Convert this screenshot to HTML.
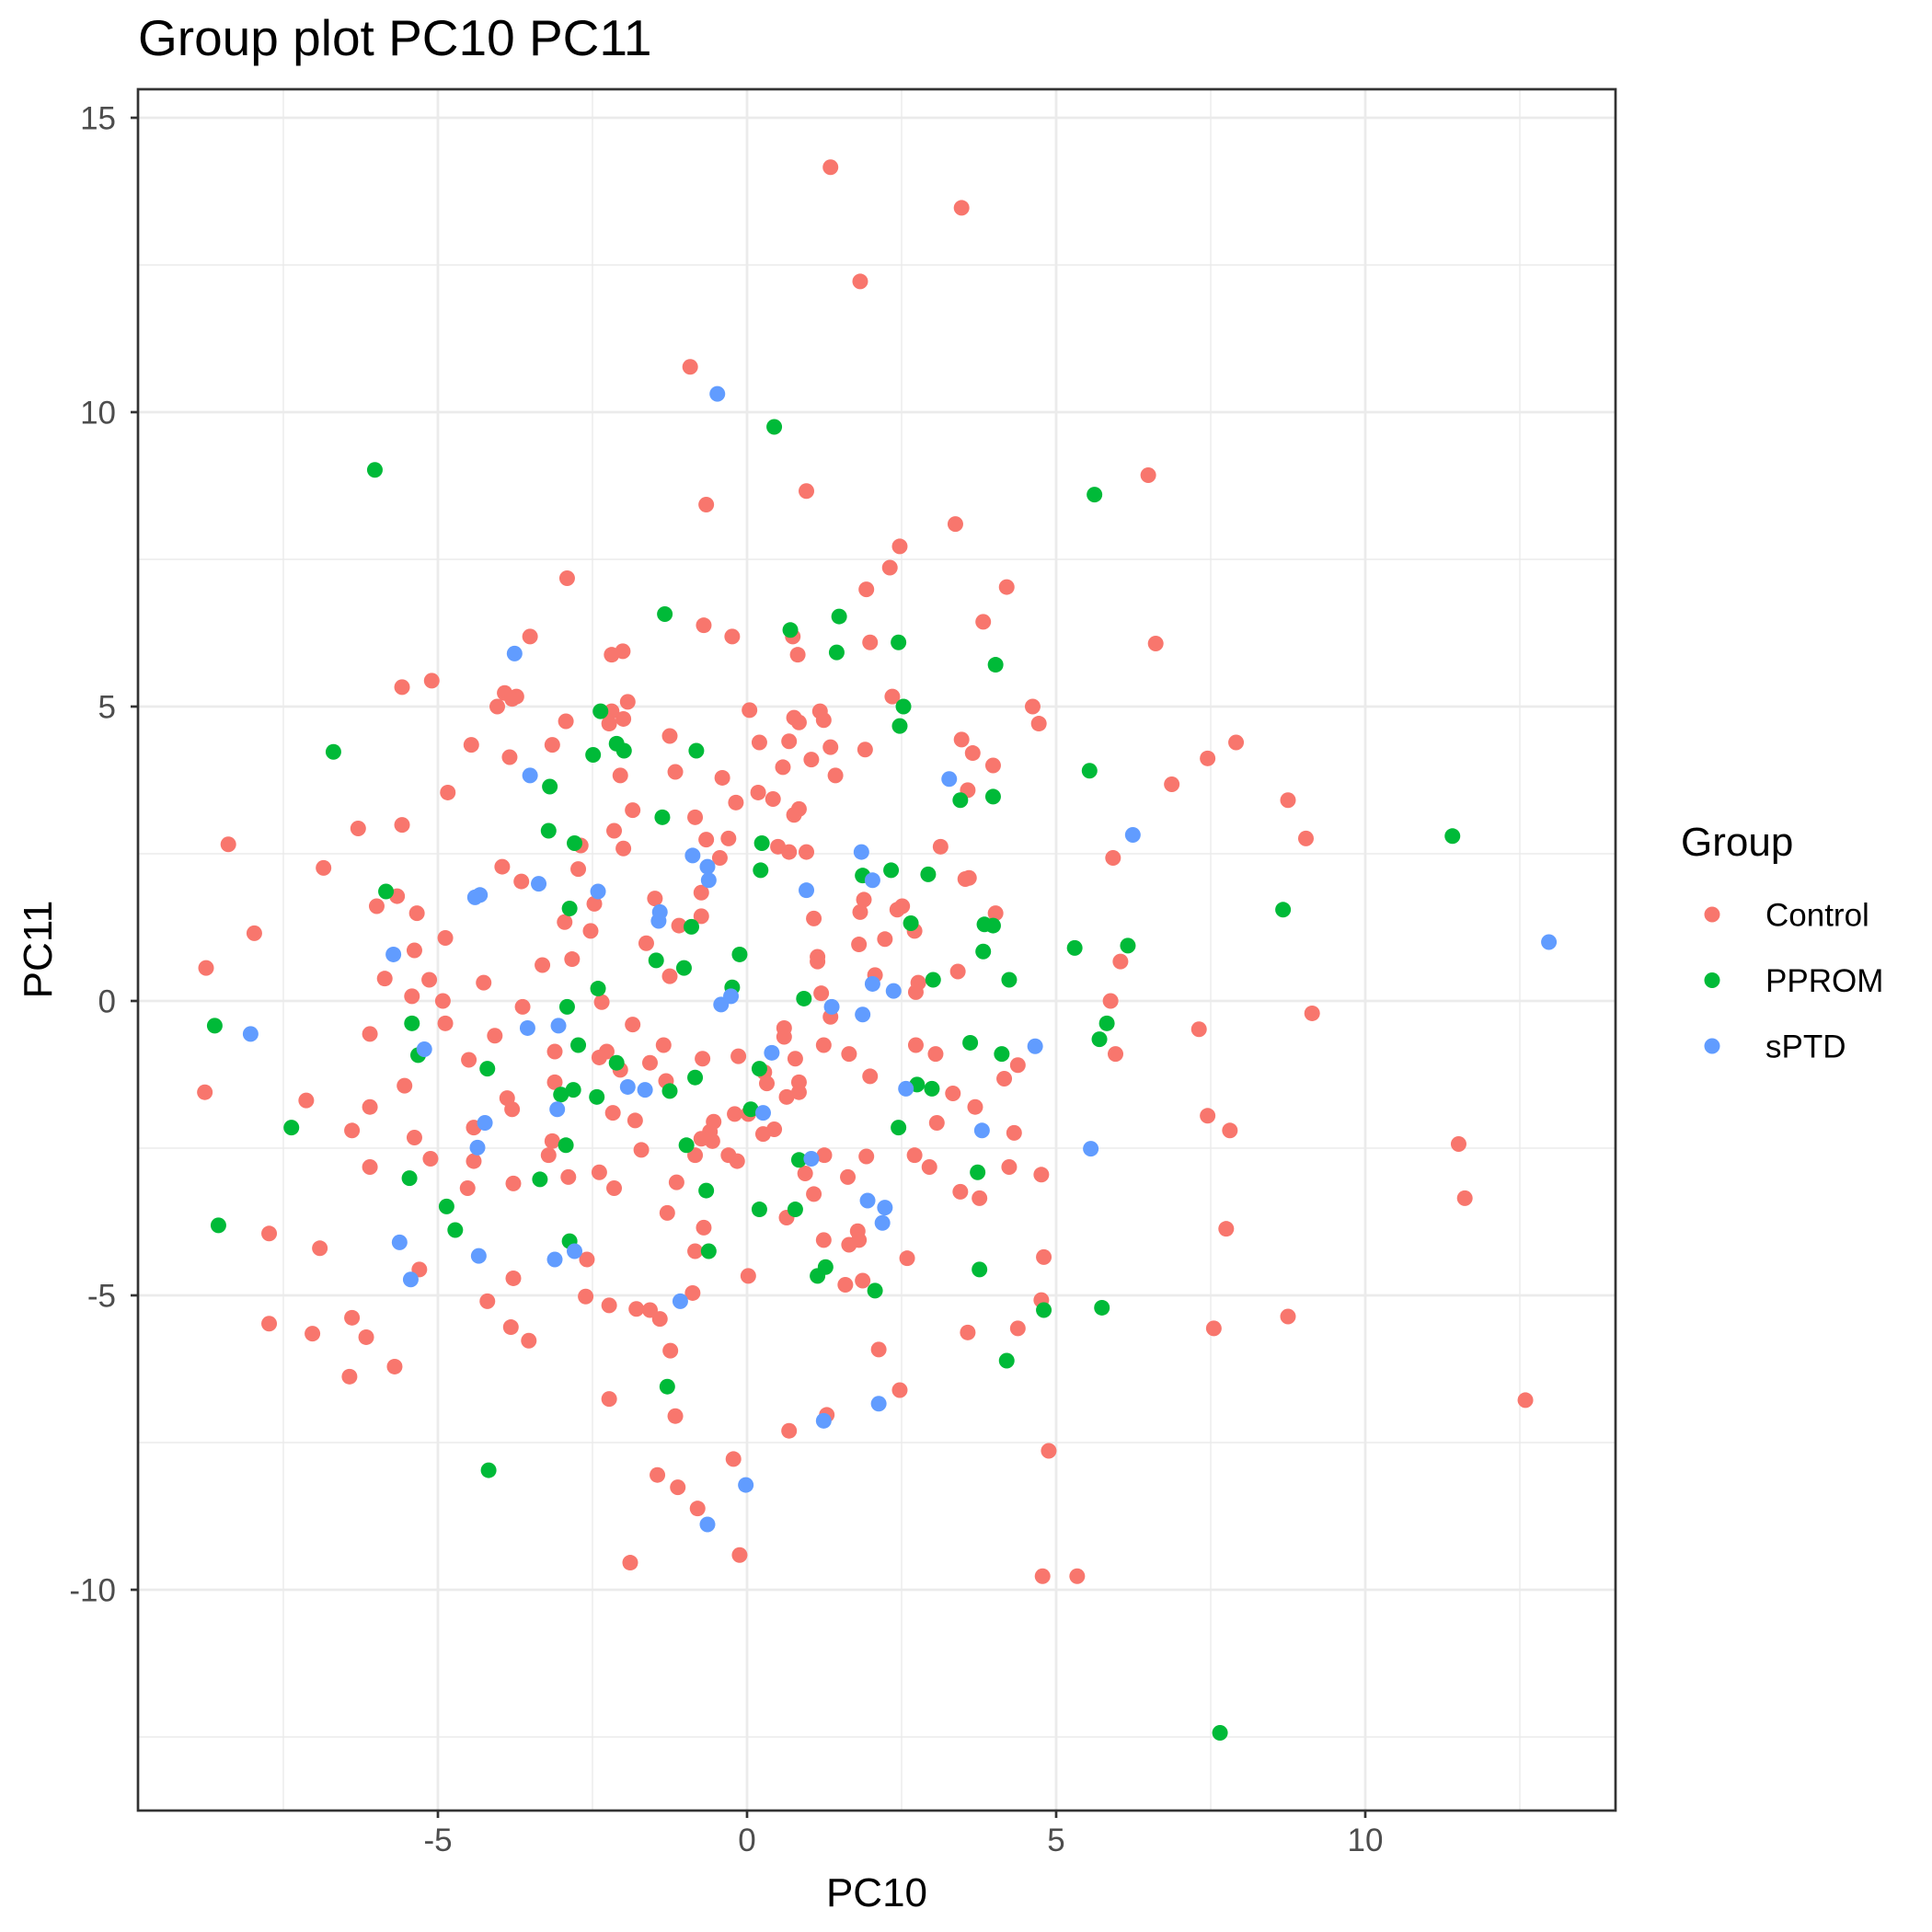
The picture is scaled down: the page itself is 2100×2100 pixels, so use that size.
<!DOCTYPE html>
<html><head><meta charset="utf-8"><style>
html,body{margin:0;padding:0;background:#fff;}
svg{display:block;font-family:"Liberation Sans",sans-serif;}
</style></head><body>
<svg id="chart" width="2100" height="2100" viewBox="0 0 2100 2100">
<text x="150" y="60" font-size="55" fill="#000">Group plot PC10 PC11</text>
<g id="grid"></g>
<g id="pts"></g>
<rect x="150" y="97" width="1606" height="1871" fill="none" stroke="#333" stroke-width="2.7"/>
<g id="axes"></g>
<text x="953" y="2072" font-size="44" text-anchor="middle" fill="#000">PC10</text>
<text transform="translate(56,1032) rotate(-90)" font-size="44" text-anchor="middle" fill="#000">PC11</text>
<g id="legend">
<text x="1827" y="930" font-size="44" fill="#000">Group</text>
</g>
</svg>
<script>
const groups = ["Control","PPROM","sPTD"];
const colors = ["#F8766D","#00BA38","#619CFF"];
const xTicks = [-5,0,5,10];
const yTicks = [-10,-5,0,5,10,15];
const xMinor = [-7.5,-2.5,2.5,7.5,12.5];
const yMinor = [-12.5,-7.5,-2.5,2.5,7.5,12.5];
const pprom = [[-6.02,9.02],[0.44,9.75],[5.62,8.6],[-1.33,6.57],[1.49,6.53],[0.70,6.30],[1.45,5.92],[2.45,6.09],[4.02,5.71],[2.53,5.0],[-6.69,4.23],[-2.37,4.92],[-2.11,4.37],[-2.49,4.18],[-1.99,4.25],[-0.82,4.25],[2.47,4.67],[5.54,3.91],[-3.19,3.64],[-1.37,3.12],[-3.21,2.89],[-2.79,2.68],[0.24,2.68],[3.45,3.41],[3.98,3.47],[11.41,2.80],[0.22,2.22],[2.33,2.22],[2.93,2.15],[1.87,2.13],[8.67,1.55],[-5.84,1.86],[-2.87,1.57],[-0.90,1.26],[2.65,1.32],[3.84,1.30],[3.98,1.28],[5.30,0.90],[6.16,0.94],[-1.47,0.69],[-1.02,0.56],[-0.12,0.79],[3.82,0.84],[3.01,0.36],[4.24,0.36],[-0.24,0.23],[-2.41,0.21],[0.92,0.04],[-2.91,-0.10],[-8.61,-0.42],[-5.42,-0.38],[5.82,-0.38],[5.70,-0.65],[3.61,-0.71],[4.12,-0.90],[-5.32,-0.92],[-2.73,-0.75],[-2.11,-1.05],[-4.20,-1.15],[0.20,-1.15],[-0.84,-1.30],[2.75,-1.42],[2.99,-1.49],[-2.81,-1.51],[-1.25,-1.53],[-3.01,-1.59],[-2.43,-1.63],[0.06,-1.84],[-7.37,-2.15],[2.45,-2.15],[-2.93,-2.45],[-0.98,-2.45],[0.84,-2.70],[3.73,-2.91],[-5.46,-3.01],[-3.35,-3.03],[-0.66,-3.22],[-4.86,-3.49],[0.20,-3.54],[0.78,-3.54],[-8.55,-3.81],[-4.72,-3.89],[-2.87,-4.08],[-0.62,-4.25],[1.27,-4.52],[1.14,-4.67],[3.76,-4.56],[2.07,-4.92],[4.80,-5.25],[5.74,-5.21],[4.20,-6.11],[-1.29,-6.55],[-4.18,-7.97],[7.65,-12.43]];
const sptd = [[-0.48,10.31],[-3.76,5.90],[-3.51,3.83],[3.27,3.77],[6.24,2.82],[1.85,2.53],[-0.88,2.47],[-0.64,2.28],[-0.62,2.05],[2.03,2.05],[-3.37,1.99],[-4.32,1.80],[-4.40,1.76],[-2.41,1.86],[0.96,1.88],[-1.41,1.51],[-1.43,1.36],[12.97,1.00],[-5.72,0.79],[2.03,0.29],[-0.26,0.08],[-0.42,-0.06],[1.37,-0.10],[1.87,-0.23],[-8.03,-0.56],[-3.55,-0.46],[-3.05,-0.42],[4.66,-0.77],[-5.22,-0.82],[0.40,-0.88],[-1.93,-1.46],[-1.65,-1.51],[2.57,-1.49],[0.26,-1.90],[-3.07,-1.84],[-4.24,-2.07],[3.80,-2.20],[-4.36,-2.49],[5.56,-2.51],[1.04,-2.68],[1.95,-3.39],[2.23,-3.51],[2.19,-3.77],[-5.62,-4.10],[-2.79,-4.25],[-4.34,-4.33],[-3.11,-4.39],[-5.44,-4.73],[-1.08,-5.10],[2.13,-6.84],[1.24,-7.13],[-0.02,-8.22],[-0.64,-8.89],[2.37,0.17]];
const control = [[1.35,14.16],[3.47,13.47],[1.83,12.22],[-0.92,10.77],[6.49,8.93],[-0.66,8.43],[0.96,8.66],[3.37,8.10],[2.47,7.72],[2.31,7.36],[-2.91,7.18],[4.20,7.03],[1.93,6.99],[3.82,6.44],[-0.70,6.38],[-0.24,6.19],[-3.51,6.19],[6.61,6.07],[1.99,6.09],[0.74,6.19],[-2.01,5.94],[-2.19,5.88],[0.82,5.88],[-5.10,5.44],[-5.58,5.33],[-3.92,5.23],[-3.73,5.17],[-3.80,5.13],[-4.04,5.00],[-1.93,5.08],[-2.19,4.92],[0.04,4.94],[1.18,4.92],[4.62,5.00],[2.35,5.17],[-2.93,4.75],[0.76,4.81],[1.24,4.77],[0.84,4.73],[-2.00,4.79],[-2.23,4.71],[4.72,4.71],[7.91,4.39],[7.45,4.12],[-4.46,4.35],[-3.84,4.14],[-3.15,4.35],[-1.25,4.50],[0.20,4.39],[0.68,4.41],[1.35,4.31],[1.91,4.27],[3.47,4.44],[3.65,4.21],[3.98,4.00],[1.04,4.10],[-1.16,3.89],[0.58,3.97],[1.43,3.83],[-2.05,3.83],[-0.40,3.79],[6.87,3.68],[3.57,3.58],[-4.84,3.54],[0.18,3.54],[0.42,3.43],[8.75,3.41],[-0.18,3.37],[-1.85,3.24],[0.84,3.26],[0.76,3.16],[-0.84,3.12],[-5.58,2.99],[-6.29,2.93],[-2.15,2.89],[9.04,2.76],[-0.66,2.74],[-0.30,2.76],[-8.39,2.66],[-2.69,2.64],[-2.00,2.59],[0.50,2.62],[0.68,2.53],[0.96,2.53],[3.13,2.62],[-0.44,2.43],[5.92,2.43],[-3.96,2.28],[-2.73,2.24],[-6.85,2.26],[3.53,2.07],[3.59,2.09],[-3.65,2.03],[1.89,1.72],[2.51,1.61],[-0.74,1.84],[-1.49,1.74],[-5.66,1.78],[-5.99,1.61],[-2.47,1.65],[1.83,1.51],[2.43,1.55],[-5.34,1.49],[4.02,1.49],[-0.74,1.44],[-2.95,1.34],[-1.10,1.28],[1.08,1.40],[2.71,1.19],[-7.97,1.15],[-2.53,1.19],[2.23,1.05],[-4.88,1.07],[-1.63,0.98],[1.81,0.96],[-5.38,0.86],[1.14,0.75],[1.14,0.67],[-2.83,0.71],[6.04,0.67],[-3.31,0.61],[-8.75,0.56],[-5.86,0.38],[-5.14,0.36],[-1.25,0.42],[2.07,0.44],[2.77,0.31],[-4.26,0.31],[3.41,0.50],[2.73,0.15],[1.20,0.13],[-5.42,0.08],[5.88,0.00],[-4.92,0.00],[-2.35,-0.02],[-3.63,-0.10],[9.14,-0.21],[1.35,-0.27],[-4.88,-0.38],[-1.85,-0.40],[0.60,-0.46],[7.31,-0.48],[-6.10,-0.56],[-4.08,-0.59],[0.60,-0.61],[1.24,-0.75],[2.73,-0.75],[-1.35,-0.75],[-3.11,-0.86],[3.05,-0.90],[5.96,-0.90],[-2.27,-0.86],[1.65,-0.90],[-0.72,-0.98],[-0.14,-0.94],[-2.39,-0.96],[0.78,-0.98],[-4.50,-1.00],[-1.57,-1.05],[4.38,-1.09],[-2.05,-1.17],[0.28,-1.21],[4.16,-1.32],[1.99,-1.28],[-3.11,-1.38],[0.32,-1.40],[0.84,-1.38],[-1.31,-1.36],[-5.54,-1.44],[0.84,-1.55],[3.33,-1.57],[0.64,-1.63],[-8.77,-1.55],[-7.13,-1.69],[-3.88,-1.65],[3.69,-1.80],[-6.10,-1.80],[-3.80,-1.84],[-0.20,-1.92],[0.02,-1.92],[-2.17,-1.90],[7.45,-1.95],[-1.81,-2.03],[3.07,-2.07],[-0.54,-2.05],[0.44,-2.18],[-0.60,-2.22],[7.81,-2.20],[-4.42,-2.15],[-6.39,-2.20],[4.32,-2.24],[0.26,-2.26],[-5.38,-2.32],[-0.74,-2.34],[-0.56,-2.38],[11.51,-2.43],[-3.15,-2.38],[-1.71,-2.53],[-0.84,-2.62],[2.71,-2.62],[-0.30,-2.62],[1.25,-2.62],[1.93,-2.64],[-3.21,-2.62],[-5.12,-2.68],[-0.16,-2.72],[-4.42,-2.72],[-6.10,-2.82],[2.95,-2.82],[4.24,-2.82],[-2.39,-2.91],[0.94,-2.93],[4.76,-2.95],[1.63,-2.99],[-2.89,-2.99],[-1.14,-3.08],[-3.78,-3.10],[-2.15,-3.18],[-4.52,-3.18],[3.45,-3.24],[1.08,-3.28],[3.76,-3.35],[11.61,-3.35],[-1.29,-3.60],[0.64,-3.68],[-0.70,-3.85],[7.75,-3.87],[-7.73,-3.95],[1.79,-3.91],[1.81,-4.06],[1.24,-4.06],[-6.91,-4.20],[-0.84,-4.25],[1.65,-4.14],[2.59,-4.37],[4.80,-4.35],[-2.59,-4.39],[-5.30,-4.56],[-3.78,-4.71],[0.02,-4.67],[1.87,-4.75],[1.59,-4.82],[-0.88,-4.96],[-2.61,-5.02],[-4.20,-5.10],[4.76,-5.08],[-2.23,-5.17],[-1.79,-5.23],[-1.57,-5.25],[-1.41,-5.40],[-7.73,-5.48],[-6.39,-5.38],[-3.82,-5.54],[4.38,-5.56],[7.55,-5.56],[8.75,-5.36],[-7.03,-5.65],[-6.16,-5.71],[3.57,-5.63],[-3.53,-5.77],[2.13,-5.92],[-1.24,-5.94],[-5.70,-6.21],[-6.43,-6.38],[2.47,-6.61],[12.59,-6.78],[-2.23,-6.76],[1.29,-7.03],[-1.16,-7.05],[0.68,-7.30],[4.88,-7.64],[-0.22,-7.78],[-1.45,-8.05],[-1.12,-8.26],[-0.80,-8.62],[-0.12,-9.41],[-1.89,-9.54],[4.78,-9.77],[5.34,-9.77]];

const NS="http://www.w3.org/2000/svg";
const L=150,R=1756,T=97,B=1968;
const xs=v=>812+v*67.2;
const ys=v=>128+(15-v)*64.0;
function mk(tag,attrs,parent){const e=document.createElementNS(NS,tag);for(const k in attrs)e.setAttribute(k,attrs[k]);parent.appendChild(e);return e;}
const grid=document.getElementById('grid');
xMinor.forEach(v=>{const e=mk('line',{x1:xs(v),x2:xs(v),y1:T,y2:B,stroke:'#EBEBEB','stroke-width':1.4},grid);

});
yMinor.forEach(v=>{const e=mk('line',{x1:L,x2:R,y1:ys(v),y2:ys(v),stroke:'#EBEBEB','stroke-width':1.4},grid);

});
xTicks.forEach(v=>{const e=mk('line',{x1:xs(v),x2:xs(v),y1:T,y2:B,stroke:'#EBEBEB','stroke-width':2.8},grid);

});
yTicks.forEach(v=>{const e=mk('line',{x1:L,x2:R,y1:ys(v),y2:ys(v),stroke:'#EBEBEB','stroke-width':2.8},grid);

});
const axes=document.getElementById('axes');
xTicks.forEach(v=>{const t=mk('line',{x1:xs(v),x2:xs(v),y1:B,y2:B+8,stroke:'#333','stroke-width':2.7},axes);


const l=mk('text',{x:xs(v),y:2012,'font-size':35,fill:'#4D4D4D','text-anchor':'middle'},axes);l.textContent=v;

});
yTicks.forEach(v=>{const t=mk('line',{x1:L-8,x2:L,y1:ys(v),y2:ys(v),stroke:'#333','stroke-width':2.7},axes);


const l=mk('text',{x:126,y:ys(v)+12.5,'font-size':35,fill:'#4D4D4D','text-anchor':'end'},axes);l.textContent=v;

});
const pts=document.getElementById('pts');
[control,pprom,sptd].forEach((arr,gi)=>{arr.forEach(p=>{const c=mk('circle',{cx:xs(p[0]),cy:ys(p[1]),r:8.5,fill:colors[gi]},pts);

});});
const lg=document.getElementById('legend');
groups.forEach((g,i)=>{const y=994+i*71.5;
const c=mk('circle',{cx:1861,cy:y,r:8.5,fill:colors[i]},lg);


const t=mk('text',{x:1919,y:y+12.5,'font-size':35,fill:'#000'},lg);t.textContent=g;

});
</script>
</body></html>
